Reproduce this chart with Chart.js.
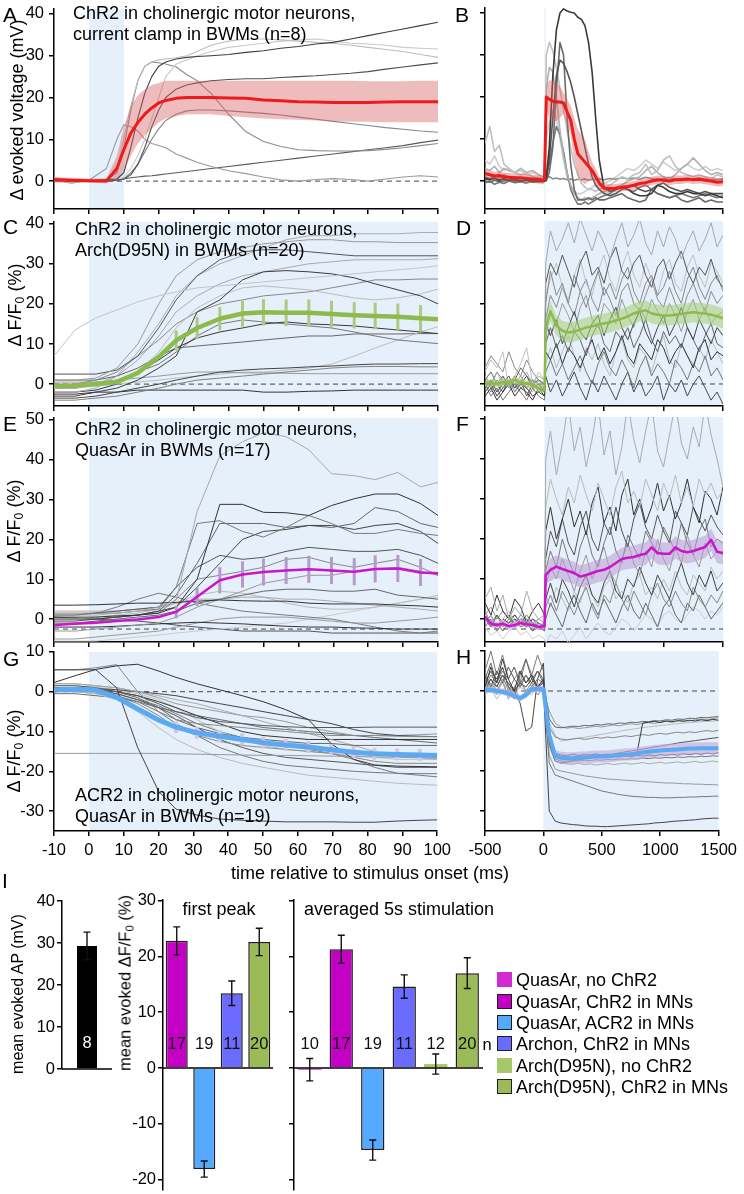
<!DOCTYPE html>
<html>
<head>
<meta charset="utf-8">
<script src="https://cdn.jsdelivr.net/npm/chart.js@4.4.1/dist/chart.umd.min.js"></script>
<style>
  html, body { margin: 0; padding: 0; background: #fff; width: 744px; height: 1194px; overflow: hidden; }
  #fig { position: relative; width: 744px; height: 1194px; overflow: hidden;
         font-family: "Liberation Sans", Arial, Helvetica, sans-serif; color: #000; }
  #fig canvas { position: absolute; }
  .txt { position: absolute; white-space: nowrap; line-height: 1.15; }
  sub { font-size: 0.68em; vertical-align: -0.28em; line-height: 0; }
</style>
</head>
<body>
<div id="fig"></div>
<script>
// ============ DATA ============
// A: current clamp, -10..100 ms
const timeA = [-10,-5,0,5,8,10,12,14,16,18,20,22,25,28,31,35,40,45,50,55,60,65,70,75,80,85,90,95,100];
const meanA = [0.3,0.2,0.1,0,3,7.5,11.5,14,16,17.5,18.7,19.3,19.8,20,20,20,19.9,19.8,19.4,19.2,19,18.9,18.8,18.8,18.8,18.9,19,19,19];
const hiA = [1,0.8,0.6,0.6,6,13,18,20.5,22,23,23.5,24,24,24,24,24,24,24,24,24,24,24,24,24,23.9,23.9,23.9,24,24];
const loA = [-0.4,-0.4,-0.4,-0.5,0.5,2.5,6,9,11,12.5,14,15,15.5,16,16,16,15.6,15.3,15,14.8,14.7,14.5,14.3,14.2,14.2,14.1,14.1,14.1,14.1];
const tracesA = [
  [0.5,0.2,0,0.3,0.5,2,8,15,21,25,27.5,28.5,29.2,29.6,29.8,30,30.3,30.8,31.2,31.8,32.2,32.8,33.2,34,34.8,35.6,36.4,37.2,38],
  [0.3,0,0,0,0.2,0.5,1.5,4,8,13,17,20,22,23,23.5,24,24.3,24.5,24.5,24.8,25,25.2,25.5,25.8,26.2,26.8,27.3,27.8,28.3],
  [0.5,-0.5,0.3,0.5,3,10,18,24,27.5,28.5,29,29.2,29.5,30,31,32.5,33.5,34,34,33.8,33.5,33.2,33,32.5,32,31.5,31,30.3,29.6],
  [0.8,0.3,0,0.2,0.5,1,3,6,10,15,20,25,28,29,30,31,32,32.5,33,33.5,33.8,34,33.5,33,32.8,32.5,32,31.8,31.6],
  [0,0.3,0,0.4,2,8,17,24,27.5,28.5,28.3,28,27.3,25.5,24,21,16,11.8,9.5,8.3,7.5,7.3,7.2,7.2,7.3,7.6,8,8.5,9],
  [0.2,-0.5,0.2,3,10,13.5,13,12,10,9,8.5,8,6.5,5.5,4.5,3.5,2.5,1.8,1,0.3,0,0.4,0.6,0.4,0,0.5,1,1.3,1],
  [0,0,0,0,0.2,0.5,2,4,7,10,12.5,14.5,16,16.8,17,17,16.8,16.5,16.2,15.8,15.3,14.8,14.3,13.8,13.3,12.8,12.4,12,11.7],
  [0,0,0,0,0.2,0.5,0.8,1,1.2,1.3,1.5,1.7,2,2.3,2.6,3,3.5,4,4.5,5,5.5,6,6.5,7,7.5,8,8.5,9.2,9.8]
];
const graysA = ['#3d3d3d','#4f4f4f','#bdbdbd','#c9c9c9','#8c8c8c','#9a9a9a','#858585','#5a5a5a'];

// B: current clamp, -500..1500 ms
const timeB = [-500,-460,-420,-380,-340,-300,-250,-200,-150,-100,-50,-10,0,15,40,70,100,130,160,190,220,250,280,310,340,370,400,430,460,500,550,600,650,700,750,800,850,900,950,1000,1050,1100,1150,1200,1250,1300,1350,1400,1450,1500];
const meanB = [1.8,1.5,1.2,1.3,1.0,0.9,0.8,0.8,0.6,0.5,0.4,0.2,0.5, 20,19.5,19,18.8,18.8,18.6,16.5,14.5,10,6.5,5.5,4.5,3.5,2.5,1,-0.5, -1.7,-1.8,-1.7,-1.5,-1.3,-1,-0.6,-0.4,0,0.3,0.2,0,0.3,0.3,0.5,0.3,0.4,0.2,0,-0.3,-0.2];
const hiB = [2.8,2.5,2.2,2.3,2,1.9,1.8,1.8,1.6,1.5,1.4,1.2,1.5, 23,24,23.8,23.3,22.5,21,19.5,18,15,12.2,11,9.8,7,4.5,3,1, -0.5,-0.8,-0.7,-0.5,-0.3,0,0.4,0.6,1,1.3,1.2,1,1.3,1.3,1.5,1.3,1.4,1.2,1,0.7,0.8];
const loB = [0.8,0.5,0.2,0.3,0,-0.1,-0.2,-0.2,-0.4,-0.5,-0.6,-0.8,-0.5, 17,15,14.2,14.3,15,16,13.5,11,5,1,0,-0.8,0,0.5,-1,-2, -2.9,-2.8,-2.7,-2.5,-2.3,-2,-1.6,-1.4,-1,-0.7,-0.8,-1,-0.7,-0.7,-0.5,-0.7,-0.6,-0.8,-1,-1.3,-1.2];
const tracesB = [
  [0.5,0.3,0.6,0.2,0.4,0.1,0.3,0,0.2,-0.2,0,0,0, 1,8,25,36,40,41,40.5,40.2,40,39,38.5,37,33,26,15,5, -1.5,-2.5,-2,-1.5,-2,-3,-3.5,-3.5,-3,-1,-1.5,-2.5,-3,-3,-2.5,-3,-3,-3.5,-3,-3.5,-4],
  [0.8,0.5,0.7,0.3,0.6,0.2,0.4,0.1,0.3,0,0.2,0,0, 0.5,5,15,25,28.8,28,26,23.5,20,16,12,8,4,1,-1,-2, -3,-3.5,-3,-2,-1.5,-1,-2,-2.5,-2,-1,-0.5,-1.5,-2,-2.5,-2,-2.5,-3,-2.5,-3,-3,-3],
  [0,-0.3,0.2,-0.2,0,0.3,-0.1,0,0.2,-0.2,0,0,0, 0,2,8,22,33,30,15,4,-2,-4.5,-4.5,-4.5,-4,-4.5,-4,-4.5, -4.5,-4,-3.5,-3,-4,-4.5,-5,-4.5,-2,-3,-3.5,-4,-3.5,-4.5,-5,-4.5,-4,-5,-4.5,-5,-5],
  [9,13,7,8.5,4,3,2,1.5,1.8,1,0.8,0.5,1, 30,33,31,27,22,17,12,8,4,1.5,-0.5,-1.5,-2,-2,-2.5,-2, -1.5,-1,0,1,0.5,1.5,2,4,1.5,2.5,5,6,3.5,2,1.5,1,1.5,1,0.5,1.5,1],
  [3,2.5,3.5,2,3,2.5,2,3,2,2.5,1.5,1,1, 22,27,26,20,12,6,2,-1,-3,-4,-4.5,-4,-4.5,-4,-3.5,-3, -2.5,-2,-1.5,-1,0,0.5,1,2.5,3.5,2,1,0.5,1.5,3,4,5.5,4,2.5,1.5,2,1.5],
  [1,0.5,1.2,0.8,1.5,0.7,1,0.5,0.8,0.3,0.5,0.4,0.6, 0.8,1,0.5,0.7,0.4,0.6,0.3,0.5,0.2,0.4,0.3,0.5,0.2,0.4,0.3,0.5, 0.3,0.6,0.4,0.8,0.5,0.7,0.4,0.9,0.6,0.3,0.5,0.8,0.4,0.6,0.3,0.5,0.7,0.4,0.6,0.3,0.5],
  [-0.5,0,-0.8,-0.3,-0.6,0,-0.4,-0.2,-0.5,0,-0.3,-0.2,0, 1,4,9,13,11,7,2,-2,-4,-5.5,-5.5,-5,-5.5,-5,-4.5,-4, -3.5,-3,-2,-1.5,-2,-2.5,-1.5,-1,-2,-3,-3.5,-4,-3.5,-3,-3.5,-4,-3.5,-3,-3.5,-4,-3.5],
  [5,4,6,3.5,2.5,3,2,2.5,1.5,2,1.5,1,1.5, 10,14,17,15,10,5,1,-1,-2.5,-3,-3,-2.5,-2,-1.5,-1,-1, -0.5,0,1,2,3,2.5,3.5,5,4,3,4.5,3.5,2.5,3,4,3,2.5,3.5,2.5,3,2.5]
];
const graysB = ['#3a3a3a','#555555','#6a6a6a','#c0c0c0','#b0b0b0','#8c8c8c','#777777','#cfcfcf'];

// C: Arch(D95N), -10..100 ms
const timeC = [-10,-4,2,8,14,20,25,31,37.5,44,50,56.5,63,69.5,76,82,88.5,95,100];
const meanC = [-0.5,-0.4,0,0.5,2.8,6.8,10.9,14,16.3,17.6,17.9,17.8,17.8,17.5,17.2,17,16.8,16.4,16.2];
const errC = [0,0,0,0,0,0,2.5,2.7,2.9,3.3,3.3,3.3,3.3,3.3,3.3,3.3,3.3,3.3,0];
const tracesC = [
  [7,13.5,16.5,18.5,20.5,22,23,24,24.5,25,25.5,26,26.5,27,27.5,28,28.5,29,29.5],
  [1,1,1.5,4,10,20,27,31,33,34,35,35.5,36,36,35.5,35.5,35.3,35.3,35.3],
  [2.5,2.5,2.5,3.5,7,14,21,27,31,33,33.5,33.5,33,32.5,32,32,32,32,32],
  [-2,-2,-1,2,8,15,22,27,30,32,34,36,37,37,37.5,37.5,37.5,37.8,37.8],
  [-3,-3,-2,-1,1,4,7,18,21,26,28,28.3,28,27.5,26.5,25,23.5,22,20],
  [-1,-1,0,1,3,8,14,19,22,24,24.5,24,23.5,22.5,21.5,21,21.5,22.5,23.7],
  [0,0,1,3,7,11,15,18,20,21,22,22.5,23,24,25,26,26,26.2,26.2],
  [-2,-2,-1.5,0,3,6,9,11.5,13,14,15,15.5,15,14.8,14.5,14,13.5,13,12.6],
  [-1,-1,0,1,3,5,8,12,15,16,15.5,15,14.5,14,13,12,11,10.5,10.1],
  [-3.5,-3.5,-3,-2,-1,0,1,2,3,3.5,3.8,4,4.3,4.5,4.8,5,5,5.1,5.1],
  [-4,-4,-3.5,-3,-2,-1,0,1,1.5,2,2.5,3,3.5,4,4.3,4.4,4.4,4.3,4.3],
  [0.5,0.5,0.5,1,1.5,2,2.5,3,3,2.8,2.8,2.7,2.6,2.6,2.6,2.6,2.6,2.6,2.6],
  [-2.5,-2.5,-2,-2,-1.5,-1.5,-1.5,-1.5,-1.5,-1.5,-2,-2,-1.8,-1.7,-1.5,-1.5,-1.5,-1.5,-1.5],
  [-1,-1,-0.5,0,0.5,1,1.5,2,2.5,3,3,3.5,4,5,7,9,11,13,14.3],
  [1,1,1,2,4,7,9,9.5,10,10.5,11,11.5,12,12,12.5,12.5,12.5,12.6,12.6],
  [-1,-1,0,2,6,12,18,22,25,27,28,29,30,30.5,31,31,31,31,31.3]
];
const graysC = ['#c4c4c4','#9a9a9a','#555555','#ababab','#3c3c3c','#bcbcbc','#888888','#3a3a3a','#777777','#444444','#808080','#999999','#333333','#bdbdbd','#666666','#aaaaaa'];

// D, F, H: -500..1500 ms
const timeD = [-500,-450,-400,-350,-300,-250,-200,-150,-100,-50,0,10,50,100,150,200,250,300,350,400,450,500,550,600,650,700,750,800,850,900,950,1000,1050,1100,1150,1200,1250,1300,1350,1400,1450,1500];
const meanD = [0,0.3,0,0.5,0.3,1,0.3,0.2,-0.3,-1,-1.5, 14,18,14.5,13.2,12.8,13,13.5,14,14.3,14.8,15,15.3,15.8,16.2,16.8,17.5,18,18.3,17.5,17.2,17,17,17.2,17.4,17.6,17.8,17.6,17.5,17.2,16.8,16.3];
const halfD = [0.8,0.8,0.8,0.8,0.8,0.8,0.8,0.8,0.8,0.8,0.8, 2.2, 2.5,2.5,2.5,2.5,2.5, 2.5,2.5,2.5,2.5,2.5, 2.5,2.5,2.5,2.5,2.5, 2.5,2.5,2.5,2.5,2.5, 2.5,2.5,2.5,2.5,2.5, 2.5,2.5,2.5,2.5,2.5];
const tracesD = [
  [2,-1,3,0,1,-2,1,3,0,2,1, 30,38,33,36,40,35,41,37,33,38,35,31,36,40,34,37,41,35,32,38,34,39,36,31,35,38,33,36,40,34,37],
  [-1,1,-2,0,2,-1,1,-3,0,-1,-2, 25,30,27,32,28,24,30,33,27,29,25,31,34,28,26,30,32,27,24,29,31,26,30,33,28,25,29,27,31,26,24],
  [0,-2,1,-1,0,2,-1,0,1,-2,-1, 20,28,22,25,20,27,23,19,24,28,22,25,21,26,29,23,20,25,27,22,24,28,23,20,26,29,24,21,25,27,23],
  [3,6,4,8,-1,2,5,9,0,3,1, 22,26,30,24,21,27,31,25,22,28,32,26,23,29,33,27,24,30,26,22,28,31,25,23,29,32,27,24,30,28,25],
  [-2,0,-3,-1,1,-2,0,-1,-3,-2,-3, 15,12,16,10,14,18,13,11,15,17,12,16,19,14,11,15,18,13,10,14,17,12,15,19,14,11,16,13,10,14,12],
  [1,3,0,2,-1,1,4,2,0,1,0, 10,14,9,12,8,13,11,7,12,15,10,8,13,11,14,9,12,16,11,8,13,10,12,9,14,11,8,12,15,10,9],
  [-3,-1,-4,-2,0,-3,-1,-2,-4,-1,-3, 8,6,10,5,9,7,4,8,11,6,9,5,8,12,7,5,10,8,6,11,9,5,8,10,7,4,9,11,6,8,7],
  [2,0,3,1,-1,0,2,-1,1,0,-1, 12,18,15,20,17,13,19,22,16,14,20,18,15,21,17,14,19,16,21,18,15,20,17,13,18,21,16,19,15,17,18],
  [0,-3,-1,-4,-2,0,-2,-4,-1,-3,-4, 3,6,2,5,1,4,7,3,0,5,8,4,2,6,3,-1,4,7,2,5,3,0,6,4,1,5,3,7,2,4,1],
  [-1,1,-2,2,0,-1,1,0,-2,1,-1, 5,9,4,8,12,7,3,9,6,10,5,2,8,11,6,4,9,7,3,8,12,6,4,10,7,5,9,6,11,8,5],
  [1,-1,0,-2,1,-1,0,2,-1,0,-2, 2,-2,1,-3,0,3,-1,-4,1,-2,2,-1,-4,0,3,-2,1,-3,-1,2,-4,0,-2,1,-3,0,2,-1,-4,-2,-5],
  [4,7,5,3,8,4,2,6,3,1,0, 16,22,19,24,20,17,23,26,21,18,24,21,17,23,25,20,18,22,26,21,19,24,20,17,22,25,21,18,23,20,22]
];
const graysD = ['#a8a8a8','#555555','#888888','#c0c0c0','#444444','#666666','#333333','#999999','#777777','#bbbbbb','#4a4a4a','#8a8a8a'];

// E: QuasAr, -10..100 ms
const meanE = [-1.5,-1.2,-0.9,-0.5,-0.1,0.5,1.8,5.6,9.75,11.2,11.8,12.2,12.5,12.2,11.9,12.6,12.7,11.7,11.5];
const errE = [0,0,0,0,0,0,1.6,2.3,3.3,3.3,3.4,3.4,3.4,3.4,3.4,3.4,3.4,3.4,0];
const tracesE = [
  [1,1,1,1.5,2,3,4.75,27,41,44.5,46.8,45.8,42.5,36.5,36,35,36.8,33.2,34.3],
  [3.5,3.5,3.6,3.8,4,4,4.2,4.5,4.8,4.6,4.5,4.5,4,3.8,3.8,3.8,3.5,3.3,3],
  [0.5,0.5,0.5,0.8,1,1.5,3,10,28.8,28.8,26.8,26.7,26,28.5,30.2,31.4,31.4,29,26],
  [1.5,1.5,1.5,1.5,2,2.5,8,24,24.7,22,20.6,23,26,24,21.5,21.5,22.5,21.5,21],
  [-0.5,-0.5,0,0.5,1,2,3,8,14,20,22,22.5,23.5,23.5,22.5,23.5,24,22,19],
  [0,0,0,0.5,1,2,6,14,24,24,24,23,23.5,23,24,28,27,24,23],
  [1,1,1.5,2,2.5,3,8,13,16,15,15.5,17,18,17.5,17,17,17.5,16,14],
  [0,0,0,0.5,1,1.5,5,10,11,12,13,15,15.5,14,13,14,15,13,11],
  [-3,-3,-2.5,-2,-1.5,-1,0.5,3,5,7,9,10,11,11,12,12.5,13,12,11],
  [-1,-1,-0.5,0,0.5,1,2,4,5,6,7,7.5,7.5,7,7,7.5,6,5.5,5],
  [2,2,2,2,2.5,3,4,5,5,5.5,5.5,5,5,4.5,4,3.5,3,2.5,2],
  [0,0,0.5,1,1.5,2.5,4,6,7,6.5,5.5,4,3,2.5,2.5,3,4,5,6],
  [-2,-2,-2,-1.8,-1.5,-1.2,-1,-0.8,-1,-1.2,-1.5,-1.8,-2,-2,-2.2,-2.3,-2.5,-2.5,-2.5],
  [-5,-5,-4.5,-4,-3.5,-3,-2,-1,0,0.5,0.5,0.5,0,-0.5,-1,-1,-0.5,0,0.5],
  [1,1,1.5,3,5,6.5,5.5,4,3,2,1.5,1,0.5,0,-1,-2,-3,-3.5,-3],
  [-5.5,-5.5,-5.5,-5,-4.5,-4,-3.5,-3,-2.5,-2,-1.5,-1,0,1,2,3,4,5,5.5],
  [0.5,0.3,0,-0.3,-0.5,-1,-1.5,-2,-2.5,-3,-3,-3,-3,-3.5,-3.5,-3.5,-3.5,-3.5,-3.5]
];
const graysE = ['#a9a9a9','#333333','#333333','#7a7a7a','#444444','#666666','#555555','#888888','#999999','#666666','#aaaaaa','#bbbbbb','#333333','#999999','#7a7a7a','#cccccc','#555555'];

// F
const meanF = [0.6,-1.2,-1.5,-1.2,-1.8,-1.5,-1,-1.3,-1.5,-2,-1.8, 11,12.3,13.1,12.5,12,11.5,10.6,11,11.5,12,12.3,13,14,15,15.3,15.5,16,16.3,17.9,16.5,16.3,16.3,17.9,17,16.7,17,17.5,18,19.8,16.8,16.5];
const halfF = [0.8,0.8,0.8,0.8,0.8,0.8,0.8,0.8,0.8,0.8,0.8, 2, 2.8,2.8,2.8,2.8,2.8, 2.8,2.8,2.8,2.8,2.8, 2.8,2.8,2.8,2.8,2.8, 2.8,2.8,2.8,2.8,2.8, 2.8,2.8,2.8,2.8,2.8, 2.8,2.8,2.8,2.8,2.8];
const tracesF = [
  [5,8,2,6,0,3,1,7,2,0,1, 40,47,36,44,54,42,48,38,45,54,41,47,36,43,54,45,39,47,54,42,38,46,54,44,40,48,43,54,46,40,33],
  [-1,1,-2,0,2,-1,0,1,-2,0,-1, 28,35,30,26,33,29,36,31,27,34,30,26,33,37,29,32,28,35,31,27,34,30,36,29,33,28,35,31,34,30,32],
  [4,1,6,2,0,5,3,-1,2,4,1, 22,28,20,25,30,23,27,21,29,33,24,28,22,31,35,26,30,24,28,34,27,31,25,29,35,28,24,32,30,26,33],
  [0,-2,1,-1,-2,0,-1,1,-1,-2,-1, 15,22,18,25,19,16,23,27,20,17,24,21,28,22,18,25,29,23,20,26,22,19,27,24,21,28,25,22,26,23,21],
  [-2,0,-3,-1,1,-2,0,-1,-3,-1,-2, 12,17,13,20,15,11,18,22,16,13,19,23,17,14,21,18,15,22,19,16,23,20,17,24,19,16,22,25,18,20,19],
  [1,3,0,2,0,-1,1,0,-1,0,-1, 8,13,10,15,11,7,12,16,10,14,18,12,9,15,19,14,11,17,13,20,15,12,18,14,21,16,13,19,15,17,16],
  [-1,1,-2,0,-1,1,-1,-2,0,-1,-2, 5,9,4,10,7,3,8,11,6,4,9,12,7,5,10,8,13,9,6,11,8,5,10,14,9,6,11,8,12,7,9],
  [2,-1,1,-2,0,1,-1,0,-2,-1,-2, 3,6,2,7,4,1,5,8,3,0,6,4,9,5,2,7,4,1,6,9,5,3,7,4,2,8,5,3,6,4,7],
  [0,-2,-1,-3,-1,0,-2,-1,-3,-2,-3, 0,4,1,-2,3,6,2,-1,4,1,5,2,-1,3,6,2,0,4,1,-2,3,5,1,-1,4,2,6,3,0,2,4],
  [-2,-4,-3,-5,-3,-2,-4,-3,-5,-4,-5, -6,-4,-5,-3,-6,-4,-2,-5,-3,-1,-3,-4,-2,0,-1,-3,-1,1,0,-2,1,2,0,-1,1,3,2,0,2,1,3],
  [1,-1,0,2,0,-1,1,-1,0,-2,-1, 6,3,8,5,2,7,4,9,6,3,8,10,5,7,4,9,11,6,8,5,10,7,12,8,6,11,9,7,13,10,12]
];
const graysF = ['#aaaaaa','#bbbbbb','#333333','#555555','#777777','#999999','#444444','#888888','#666666','#cccccc','#bdbdbd'];

// G: ACR2, -10..100 ms
const meanG = [0.5,0.6,0.4,-1.4,-4.3,-7.1,-8.9,-10.3,-11.2,-12,-12.8,-13.4,-13.9,-14.6,-15.2,-15.6,-15.75,-15.9,-16];
const errG = [0,0,0,0,0,0,1.5,1.5,1.5,1.5,1.5,1.5,1.5,1.5,1.5,1.5,1.5,1.5,0];
const tracesG = [
  [2.3,4,5.6,6.5,6.9,5.2,3.6,2,0.5,-1,-2.5,-4.5,-7,-13,-17,-18.4,-18.7,-18.8,-18.9],
  [5.5,5.5,5.5,1,-14,-25,-29.5,-31,-32,-32.3,-32.5,-32.7,-32.7,-32.7,-32.8,-32.8,-32.5,-32.3,-32.2],
  [-15.5,-15.5,-15.5,-15.5,-15.5,-15.5,-15.6,-15.7,-15.8,-15.9,-16,-16,-16.1,-16.2,-16.3,-16.4,-16.5,-16.6,-16.7],
  [5.5,5.5,6,6.8,0,-5,-7,-8,-8.5,-9,-9.5,-10,-10.5,-11,-11,-11,-11.2,-11.3,-11.3],
  [1.5,1.5,1,0,-1,-3,-5,-6.5,-7.5,-8,-8.5,-8.8,-9,-9,-9,-8.9,-8.9,-8.9,-8.9],
  [1,1,0.5,0,-1.5,-4,-7,-9,-10.5,-11.5,-12,-12.5,-13,-13,-13.5,-13.5,-13.5,-13.5,-13.5],
  [0.5,0.5,0,-1,-2.5,-5,-8,-11,-14,-16,-17.5,-18.5,-19,-19.5,-20,-20.3,-20.5,-20.6,-20.6],
  [2,2,1.5,1,0,-1,-2,-3,-4.5,-6,-7.5,-9,-10.5,-12,-13.5,-15,-16,-16.5,-17],
  [1,1,0.8,0.5,0,-0.5,-1,-2,-3,-4,-5,-6,-7,-8,-9.5,-10.5,-11,-11.2,-11.3],
  [0,0,-0.5,-2,-5,-9,-12,-14.5,-16.5,-18,-19,-20,-21,-21.5,-22,-22.5,-23,-23.3,-23.5],
  [1,1,0.5,0,-1,-2.5,-4,-6,-8,-10,-11,-11.5,-12,-12,-12,-12,-12,-12,-12],
  [0,0,-0.5,-1,-3,-6,-9,-11,-12.5,-13.5,-14,-14.5,-15,-15.5,-16.5,-17.5,-18,-18,-18],
  [2,2,1.5,1,0,-1.5,-3,-4,-5,-6,-6.5,-7.5,-9,-10,-11,-11,-11,-10.8,-10.6],
  [0.5,0.5,0,-0.5,-2,-4,-6,-9,-12,-14,-15.5,-16.5,-17,-17.5,-18,-18.5,-19,-19,-19],
  [1.5,1.5,1.2,0.5,-0.5,-2,-4,-7,-10,-12,-13.5,-14.5,-15,-15.5,-16,-16.5,-17,-17,-17],
  [-0.5,-0.5,-1,-1.5,-2.5,-4,-5,-6,-7,-8,-9,-9.5,-10,-10.5,-11,-11.5,-12,-12.5,-12.9],
  [1,1,0.5,-0.5,-2,-3.5,-5.5,-8,-10,-11.5,-12.5,-13.5,-14.5,-15.5,-17,-19,-20.5,-21,-21.4]
];
const graysG = ['#333333','#444444','#999999','#888888','#555555','#666666','#777777','#aaaaaa','#444444','#bbbbbb','#333333','#888888','#999999','#555555','#c0c0c0','#6a6a6a','#7a7a7a'];

// H
const meanH = [0.25,0.3,0,-0.2,-0.6,-1.2,-1.8,-1,0.5,0.5,0.5, -2,-11,-16.2,-16.7,-16.8,-16.8,-16.7,-16.6,-16.5,-16.4,-16.4,-16.3,-16.2,-16,-15.9,-15.8,-15.6,-15.4,-15.2,-15,-14.9,-14.75,-14.7,-14.6,-14.5,-14.4,-14.4,-14.3,-14.3,-14.3,-14.3];
const halfH = [0.8,0.8,0.8,0.8,0.8,0.8,0.8,0.8,0.8,0.8,0.8, 0.8, 1.2, 1.5,1.5,1.5,1.5, 1.5,1.5,1.5,1.5,1.5, 1.5,1.5,1.5,1.5,1.5, 1.5,1.5,1.5,1.5,1.5, 1.5,1.5,1.5,1.5,1.5, 1.5,1.5,1.5,1.5,1.5];
const tracesH = [
  [1,6,2,8,3,0,5,2,4,1,3, -1,-10,-15.5,-16,-16.2,-15.8,-16.1,-15.9,-16,-15.7,-16,-15.8,-15.9,-15.6,-15.8,-15.5,-15.7,-8,-7.8,-7.6,-7.9,-7.5,-7.7,-7.4,-7.6,-7.3,-7.5,-7.2,-7.4,-7.1,-7.3],
  [0,3,1,4,2,0,2,1,3,1,2, -5,-30,-32.5,-33,-33.2,-33.4,-33.5,-33.7,-33.8,-33.8,-33.9,-33.9,-33.8,-33.7,-33.6,-33.5,-33.4,-33.3,-33.2,-33,-32.9,-32.8,-32.6,-32.5,-32.4,-32.3,-32.2,-32,-31.9,-31.8,-31.8],
  [1,4,2,5,3,6,2,4,1,3,2, -3,-18,-21,-21.5,-22,-22.5,-23,-23.5,-24,-24.5,-25,-25.3,-25.6,-25.9,-26.1,-26.3,-26.4,-26.5,-26.6,-26.6,-26.7,-26.7,-26.7,-26.6,-26.6,-26.5,-26.5,-26.4,-26.4,-26.3,-26.3],
  [-1,2,0,3,-2,1,3,0,2,-1,1, -3,-16,-19.5,-20,-20.3,-20.6,-20.9,-21.2,-21.4,-21.6,-21.8,-22,-22.1,-22.2,-22.3,-22.4,-22.5,-22.6,-22.7,-22.8,-22.9,-23,-23,-23.1,-23.2,-23.2,-23.3,-23.3,-23.4,-23.4,-23.5],
  [4,1,5,2,6,3,1,4,2,5,3, -2,-13,-17.5,-18,-17.8,-17.5,-17.2,-17,-16.7,-16.5,-16.2,-16,-15.7,-15.5,-15.2,-15,-14.8,-14.5,-14.3,-14,-13.8,-13.5,-13.3,-13,-12.8,-12.6,-12.4,-12.2,-12,-11.8,-11.6],
  [3,7,2,6,1,-2,4,8,3,5,2, 1,-7,-9,-9.2,-9,-8.8,-8.9,-8.6,-8.7,-8.4,-8.5,-8.2,-8.3,-8,-8.1,-7.8,-7.9,-7.6,-7.7,-7.4,-7.5,-7.2,-7.3,-7,-7.1,-6.8,-6.9,-6.6,-6.7,-6.5,-6.4],
  [2,5,1,4,0,3,5,2,4,0,3, -1,-9,-11.5,-12,-12.2,-12,-11.8,-12.1,-11.9,-11.6,-11.8,-11.5,-11.7,-11.4,-11.2,-11.4,-11.1,-10.9,-11.1,-10.8,-10.6,-10.8,-10.5,-10.3,-10.5,-10.2,-10.4,-10.1,-9.9,-10.1,-9.8],
  [0,2,-1,3,1,-1,2,0,1,-1,1, -2,-14,-17.5,-18,-18.2,-18.3,-18.1,-18.4,-18.2,-18.5,-18.3,-18.1,-18.4,-18.2,-18,-18.3,-18.1,-17.9,-18.2,-18,-17.8,-18.1,-17.9,-17.7,-18,-17.8,-17.6,-17.9,-17.7,-17.5,-17.8],
  [-1,1,-2,0,2,-1,1,0,-1,2,0, -1,-8,-11,-12.5,-12.3,-12,-11.8,-11.6,-11.3,-11.1,-10.8,-10.6,-10.3,-10.1,-9.8,-9.6,-9.4,-9.1,-9,-8.8,-8.6,-8.5,-8.3,-8.2,-8,-7.9,-7.8,-7.7,-7.6,-7.5,-7.4],
  [2,5,3,6,1,0,-3,-10,-9,3,7, 0,-12,-16.5,-17,-16.8,-17,-16.6,-16.8,-16.5,-16.7,-16.4,-16.6,-16.3,-16.5,-16.2,-16.4,-16.1,-16.3,-16,-16.2,-15.9,-16.1,-15.8,-16,-15.7,-15.9,-15.6,-15.8,-15.5,-15.7,-15.4],
  [1,3,0,2,-1,1,-2,0,2,1,0, -1,-5,-8,-9,-9.3,-9.1,-9.4,-9.2,-9,-8.8,-9,-8.7,-8.5,-8.7,-8.4,-8.2,-8.4,-8.1,-7.9,-8.1,-7.8,-7.6,-7.8,-7.5,-7.3,-7.5,-7.2,-7,-7.2,-6.9,-6.7],
  [5,10,4,9,3,6,2,8,4,9,5, -2,-13,-17,-17.5,-17.6,-17.4,-17.5,-17.3,-17.4,-17.2,-17.3,-17.1,-17.2,-17,-17.1,-16.9,-17,-16.8,-16.9,-16.7,-16.8,-16.6,-16.7,-16.5,-16.6,-16.4,-16.5,-16.3,-16.4,-16.2,-16.3]
];
const graysH = ['#3a3a3a','#444444','#777777','#999999','#555555','#666666','#888888','#aaaaaa','#bbbbbb','#4a4a4a','#999999','#777777'];

// Axis ticks
const ticksShortMs = [-10,0,10,20,30,40,50,60,70,80,90,100];
const ticksLongMs = [-500,0,500,1000,1500];
const ticksMv = [0,10,20,30,40];
const ticksArch = [0,10,20,30,40];
const ticksQuasar = [0,10,20,30,40,50];
const ticksAcr = [-30,-20,-10,0,10];

// I: bar charts
const apValues = [29.3], apErr = [3.3], apN = [8];
const peakLabels = ['QuasAr, ChR2 in MNs','QuasAr, ACR2 in MNs','Archon, ChR2 in MNs','Arch(D95N), ChR2 in MNs'];
const peakValues = [22.8, -18.1, 13.4, 22.6];
const peakErr = [2.5, 1.45, 2.2, 2.45];
const peakN = [17, 19, 11, 20];
const avgLabels = ['QuasAr, no ChR2','QuasAr, ChR2 in MNs','QuasAr, ACR2 in MNs','Archon, ChR2 in MNs','Arch(D95N), no ChR2','Arch(D95N), ChR2 in MNs'];
const avgValues = [-0.3, 21.3, -14.7, 14.6, 0.7, 17];
const avgErr = [2, 2.5, 1.8, 2.1, 1.8, 2.75];
const avgN = [10, 17, 19, 11, 12, 20];
const ticksBarAp = [0,10,20,30,40];
const ticksBarDf = [-20,-10,0,10,20,30];

// ============ STYLE / LAYOUT ============
const COL = {
  quasNo: '#d22ad2', quas: '#c400c4', acr: '#55aaff', archon: '#6b6bff', archNo: '#a5c868', arch: '#9bbb59'
};
const avgFills = [COL.quasNo, COL.quas, COL.acr, COL.archon, COL.archNo, COL.arch];
const avgBordered = [false, true, true, true, false, true];
const peakFills = [COL.quas, COL.acr, COL.archon, COL.arch];

const FAMILY = '"Liberation Sans", Arial, Helvetica, sans-serif';
Chart.defaults.font.family = FAMILY;
Chart.defaults.color = '#000';
Chart.defaults.animation = false;

const FIG = document.getElementById('fig');
const LEFT = { left: 0, width: 456, yWidth: 54, padRight: 18 };
const RIGHT = { left: 440, width: 302, yWidth: 45, padRight: 19 };
const PAD_TOP = 14, PAD_BOTTOM = 10;
const STIM_BLUE = '#e5f0fb';

// ============ UTILS ============
function canvasAt(left, top, w, h) {
  const c = document.createElement('canvas');
  c.width = w; c.height = h;
  c.style.left = left + 'px'; c.style.top = top + 'px';
  c.style.width = w + 'px'; c.style.height = h + 'px';
  FIG.appendChild(c);
  return c.getContext('2d');
}

function axisStyle(extra) {
  return Object.assign({
    grid: { drawOnChartArea: false, drawTicks: true, tickLength: 5, color: '#000', lineWidth: 1.5 },
    border: { display: true, color: '#000', width: 1.5 }
  }, extra);
}

function addText(html, x, cy, size, opts = {}) {
  const d = document.createElement('div');
  d.className = 'txt';
  d.innerHTML = html;
  d.style.left = x + 'px';
  d.style.top = cy + 'px';
  d.style.fontSize = size + 'px';
  if (opts.lh) d.style.lineHeight = opts.lh + 'px';
  if (opts.color) d.style.color = opts.color;
  d.style.transform = 'translate(' + (opts.center ? '-50%' : '0') + ', -50%)';
  FIG.appendChild(d);
}

function addYTitle(html, cx, cy, size) {
  const d = document.createElement('div');
  d.className = 'txt';
  d.innerHTML = html;
  d.style.left = cx + 'px';
  d.style.top = cy + 'px';
  d.style.fontSize = size + 'px';
  d.style.transform = 'translate(-50%, -50%) rotate(-90deg)';
  FIG.appendChild(d);
}

// stimulus shading + error bars under the mean line
function traceDecor(o) {
  return {
    id: 'traceDecor',
    beforeDatasetsDraw(chart) {
      const { ctx, chartArea: a, scales: { x } } = chart;
      const x0 = x.getPixelForValue(o.stim[0]);
      const x1 = Math.min(x.getPixelForValue(o.stim[1]), a.right);
      ctx.save();
      ctx.fillStyle = STIM_BLUE;
      ctx.fillRect(x0, a.top, Math.max(x1 - x0, 1.3), a.bottom - a.top - 1);
      ctx.restore();
    },
    beforeDatasetDraw(chart, args) {
      if (args.index !== 0 || !o.err) return;
      const { ctx, scales: { x, y } } = chart;
      ctx.save();
      ctx.strokeStyle = o.errColor;
      ctx.lineWidth = o.errWidth;
      o.t.forEach((t, i) => {
        const e = o.err[i];
        if (!e) return;
        const px = x.getPixelForValue(t);
        ctx.beginPath();
        ctx.moveTo(px, y.getPixelForValue(o.mean[i] - e));
        ctx.lineTo(px, y.getPixelForValue(o.mean[i] + e));
        ctx.stroke();
      });
      ctx.restore();
    }
  };
}

function tracePanel(side, plotTop, plotBottom, o) {
  const s = side === 'L' ? LEFT : RIGHT;
  const xH = o.xLabels ? 30 : 6;
  const h = PAD_TOP + (plotBottom - plotTop) + xH + PAD_BOTTOM;
  const ctx = canvasAt(s.left, plotTop - PAD_TOP, s.width, h);
  const pts = ys => ys.map((v, i) => ({ x: o.t[i], y: v }));

  const ds = [{ data: pts(o.mean), borderColor: o.meanColor, borderWidth: o.meanWidth, order: 0 }];
  if (o.hi) {
    ds.push({ data: pts(o.hi), borderWidth: 0, borderColor: 'rgba(0,0,0,0)', backgroundColor: o.bandColor, fill: '+1', order: 1 });
    ds.push({ data: pts(o.lo), borderWidth: 0, borderColor: 'rgba(0,0,0,0)', fill: false, order: 1 });
  }
  o.traces.forEach((ys, k) => ds.push({ data: pts(ys), borderColor: o.grays[k], borderWidth: o.traceWidth || 1, order: 2 }));
  if (o.zero !== null) {
    ds.push({ data: [{ x: o.xMin, y: o.zero }, { x: o.xMax, y: o.zero }], borderColor: '#444', borderWidth: 1, borderDash: [5, 4], order: 3 });
  }

  new Chart(ctx, {
    type: 'line',
    data: { datasets: ds },
    options: {
      responsive: false, animation: false, events: [],
      layout: { padding: { top: PAD_TOP, bottom: PAD_BOTTOM, left: 0, right: s.padRight } },
      elements: { point: { radius: 0 }, line: { tension: 0, fill: false, borderJoinStyle: 'round' } },
      plugins: { legend: { display: false }, tooltip: { enabled: false } },
      scales: {
        x: axisStyle({
          type: 'linear', min: o.xMin, max: o.xMax,
          afterBuildTicks: sc => { sc.ticks = o.xTicks.map(v => ({ value: v })); },
          afterFit: sc => { sc.height = xH; },
          ticks: { display: !!o.xLabels, autoSkip: false, maxRotation: 0, padding: 5, font: { size: 16.5 }, callback: v => String(v) }
        }),
        y: axisStyle({
          type: 'linear', min: o.yMin, max: o.yMax,
          afterBuildTicks: sc => { sc.ticks = o.yTicks.map(v => ({ value: v })); },
          afterFit: sc => { sc.width = s.yWidth; },
          ticks: { display: side === 'L', padding: 5, font: { size: 16.5 }, callback: v => String(v) }
        })
      }
    },
    plugins: [traceDecor(o)]
  });
}

function barDecor(o) {
  return {
    id: 'barDecor',
    afterDatasetsDraw(chart) {
      const { ctx, chartArea: a, scales: { y } } = chart;
      const bars = chart.getDatasetMeta(0).data;
      const y0 = y.getPixelForValue(0);
      ctx.save();
      ctx.strokeStyle = '#000';
      ctx.lineWidth = 1.5;
      ctx.beginPath(); ctx.moveTo(a.left, y0); ctx.lineTo(a.right, y0); ctx.stroke();
      ctx.strokeStyle = '#111';
      ctx.lineWidth = 1.4;
      bars.forEach((b, i) => {
        const v = o.values[i], e = o.err[i];
        const t = y.getPixelForValue(v + e), u = y.getPixelForValue(v - e);
        ctx.beginPath();
        ctx.moveTo(b.x, t); ctx.lineTo(b.x, u);
        ctx.moveTo(b.x - 3.5, t); ctx.lineTo(b.x + 3.5, t);
        ctx.moveTo(b.x - 3.5, u); ctx.lineTo(b.x + 3.5, u);
        ctx.stroke();
      });
      ctx.font = '16.5px ' + FAMILY;
      ctx.textAlign = 'center';
      ctx.textBaseline = 'middle';
      const ny = y.getPixelForValue(o.nValue);
      bars.forEach((b, i) => {
        ctx.fillStyle = o.nColor;
        ctx.fillText(String(o.n[i]), b.x, ny);
      });
      ctx.restore();
    }
  };
}

function barPanel(o) {
  const h = PAD_TOP + (o.bottom - o.top) + 12;
  const ctx = canvasAt(o.left, o.top - PAD_TOP, o.width, h);
  new Chart(ctx, {
    type: 'bar',
    data: {
      labels: o.labels,
      datasets: [{
        data: o.values,
        backgroundColor: o.fills,
        borderColor: o.bordered.map(b => b ? '#1e1e1e' : 'rgba(0,0,0,0)'),
        borderWidth: o.bordered.map(b => b ? 1.5 : 0),
        barPercentage: o.barPct, categoryPercentage: 1
      }]
    },
    options: {
      responsive: false, animation: false, events: [],
      layout: { padding: { top: PAD_TOP, bottom: 12, left: 0, right: o.padRight } },
      plugins: { legend: { display: false }, tooltip: { enabled: false } },
      scales: {
        x: { display: false },
        y: axisStyle({
          type: 'linear', min: o.yMin, max: o.yMax,
          afterBuildTicks: sc => { sc.ticks = o.yTicks.map(v => ({ value: v })); },
          afterFit: sc => { sc.width = o.yWidth; },
          ticks: { display: o.showY, padding: 2, font: { size: 16.5 }, callback: v => String(v) }
        })
      }
    },
    plugins: [barDecor(o)]
  });
}

// ============ PANELS ============
tracePanel('L', 8, 209, {
  t: timeA, mean: meanA, hi: hiA, lo: loA, traces: tracesA, grays: graysA, traceWidth: 1.1,
  meanColor: '#ee1b1b', meanWidth: 3, bandColor: 'rgba(214,96,96,0.42)',
  xMin: -10, xMax: 100, yMin: -6.67, yMax: 41.2, xTicks: ticksShortMs, yTicks: ticksMv,
  stim: [0, 10], zero: 0
});
tracePanel('R', 8, 209, {
  t: timeB, mean: meanB, hi: hiB, lo: loB, traces: tracesB, grays: graysB, traceWidth: 1.6,
  meanColor: '#ee1b1b', meanWidth: 3, bandColor: 'rgba(214,96,96,0.42)',
  xMin: -500, xMax: 1500, yMin: -6.67, yMax: 41.2, xTicks: ticksLongMs, yTicks: ticksMv,
  stim: [0, 10], zero: null
});
tracePanel('L', 221, 406, {
  t: timeC, mean: meanC, traces: tracesC, grays: graysC, err: errC, errColor: '#abcb80', errWidth: 3,
  meanColor: '#8cbb4c', meanWidth: 4.5,
  xMin: -10, xMax: 100, yMin: -5.46, yMax: 40.45, xTicks: ticksShortMs, yTicks: ticksArch,
  stim: [0, 100], zero: 0
});
tracePanel('R', 221, 406, {
  t: timeD, mean: meanD, hi: meanD.map((v, i) => v + halfD[i]), lo: meanD.map((v, i) => v - halfD[i]),
  traces: tracesD, grays: graysD, meanColor: '#8cbb4c', meanWidth: 2.5, bandColor: 'rgba(165,208,115,0.55)',
  xMin: -500, xMax: 1500, yMin: -5.46, yMax: 40.45, xTicks: ticksLongMs, yTicks: ticksArch,
  stim: [0, 1500], zero: 0
});
tracePanel('L', 417, 642, {
  t: timeC, mean: meanE, traces: tracesE, grays: graysE, err: errE, errColor: '#b59bc9', errWidth: 3,
  meanColor: '#cc14cc', meanWidth: 2.5,
  xMin: -10, xMax: 100, yMin: -5.75, yMax: 50.5, xTicks: ticksShortMs, yTicks: ticksQuasar,
  stim: [0, 100], zero: -2.5
});
tracePanel('R', 417, 642, {
  t: timeD, mean: meanF, hi: meanF.map((v, i) => v + halfF[i]), lo: meanF.map((v, i) => v - halfF[i]),
  traces: tracesF, grays: graysF, meanColor: '#cc14cc', meanWidth: 2.5, bandColor: 'rgba(185,155,210,0.55)',
  xMin: -500, xMax: 1500, yMin: -5.75, yMax: 50.5, xTicks: ticksLongMs, yTicks: ticksQuasar,
  stim: [0, 1500], zero: -2.5
});
tracePanel('L', 651, 831, {
  t: timeC, mean: meanG, traces: tracesG, grays: graysG, err: errG, errColor: '#d6c5e2', errWidth: 4,
  meanColor: '#5aa9f2', meanWidth: 5, xLabels: true,
  xMin: -10, xMax: 100, yMin: -35, yMax: 10, xTicks: ticksShortMs, yTicks: ticksAcr,
  stim: [0, 100], zero: 0
});
tracePanel('R', 651, 831, {
  t: timeD, mean: meanH, hi: meanH.map((v, i) => v + halfH[i]), lo: meanH.map((v, i) => v - halfH[i]),
  traces: tracesH, grays: graysH, meanColor: '#5aa9f2', meanWidth: 4, bandColor: 'rgba(195,170,218,0.65)', xLabels: true,
  xMin: -500, xMax: 1500, yMin: -35, yMax: 10, xTicks: ticksLongMs, yTicks: ticksAcr,
  stim: [0, 1500], zero: 0
});

barPanel({
  left: 0, width: 116, yWidth: 62, padRight: 4, top: 901, bottom: 1069,
  labels: ['AP'], values: apValues, err: apErr, n: apN, nColor: '#fff', nValue: 6,
  fills: ['#000'], bordered: [false], barPct: 0.4,
  yMin: 0, yMax: 40, yTicks: ticksBarAp, showY: true
});
barPanel({
  left: 100, width: 177, yWidth: 63, padRight: 4, top: 900, bottom: 1190,
  labels: peakLabels, values: peakValues, err: peakErr, n: peakN, nColor: '#111', nValue: 4.3,
  fills: peakFills, bordered: [true, true, true, true], barPct: 0.8,
  yMin: -21.86, yMax: 30.11, yTicks: ticksBarDf, showY: true
});
barPanel({
  left: 250, width: 237, yWidth: 44, padRight: 4, top: 900, bottom: 1190,
  labels: avgLabels, values: avgValues, err: avgErr, n: avgN, nColor: '#111', nValue: 4.3,
  fills: avgFills, bordered: avgBordered, barPct: 0.74,
  yMin: -21.86, yMax: 30.11, yTicks: ticksBarDf, showY: false
});

// ============ TEXT ============
[['A', 3, 15], ['B', 455, 15], ['C', 3, 227], ['D', 456, 228], ['E', 3, 424],
 ['F', 456, 424], ['G', 3, 659], ['H', 456, 657], ['I', 2, 881]]
  .forEach(([l, x, y]) => addText(l, x, y, 21));

const NOTE_LH = 20.5;
addText('ChR2 in cholinergic motor neurons,<br>current clamp in BWMs (n=8)', 73, 13 + NOTE_LH / 2, 18, { lh: NOTE_LH });
addText('ChR2 in cholinergic motor neurons,<br>Arch(D95N) in BWMs (n=20)', 75, 229 + NOTE_LH / 2, 18, { lh: NOTE_LH });
addText('ChR2 in cholinergic motor neurons,<br>QuasAr in BWMs (n=17)', 75, 429 + NOTE_LH / 2, 18, { lh: NOTE_LH });
addText('ACR2 in cholinergic motor neurons,<br>QuasAr in BWMs (n=19)', 75, 795 + NOTE_LH / 2, 18, { lh: NOTE_LH });

addYTitle('Δ evoked voltage (mV)', 17, 110, 18);
addYTitle('Δ F/F<sub>0</sub> (%)', 15, 305, 18);
addYTitle('Δ F/F<sub>0</sub> (%)', 14, 521, 18);
addYTitle('Δ F/F<sub>0</sub> (%)', 14, 751, 18);
addYTitle('mean evoked AP (mV)', 18, 994, 16);
addYTitle('mean evoked ΔF/F<sub>0</sub> (%)', 125, 983, 16.5);

addText('time relative to stimulus onset (ms)', 370, 873, 18, { center: true });
addText('first peak', 219, 909, 18, { center: true });
addText('averaged 5s stimulation', 304, 909, 18);
addText('n', 487, 1044, 16.5, { center: true });

const legendRows = [979, 1001, 1022, 1043, 1065, 1086];
avgLabels.forEach((lab, i) => {
  const sq = document.createElement('div');
  sq.style.cssText = 'position:absolute;left:497px;top:' + (legendRows[i] - 7) + 'px;width:15px;height:15px;box-sizing:border-box;background:' +
    avgFills[i] + ';border:' + (avgBordered[i] ? '1.5px solid #1e1e1e' : 'none');
  FIG.appendChild(sq);
  addText(lab, 516, legendRows[i] + 1, 18);
});
</script>
</body>
